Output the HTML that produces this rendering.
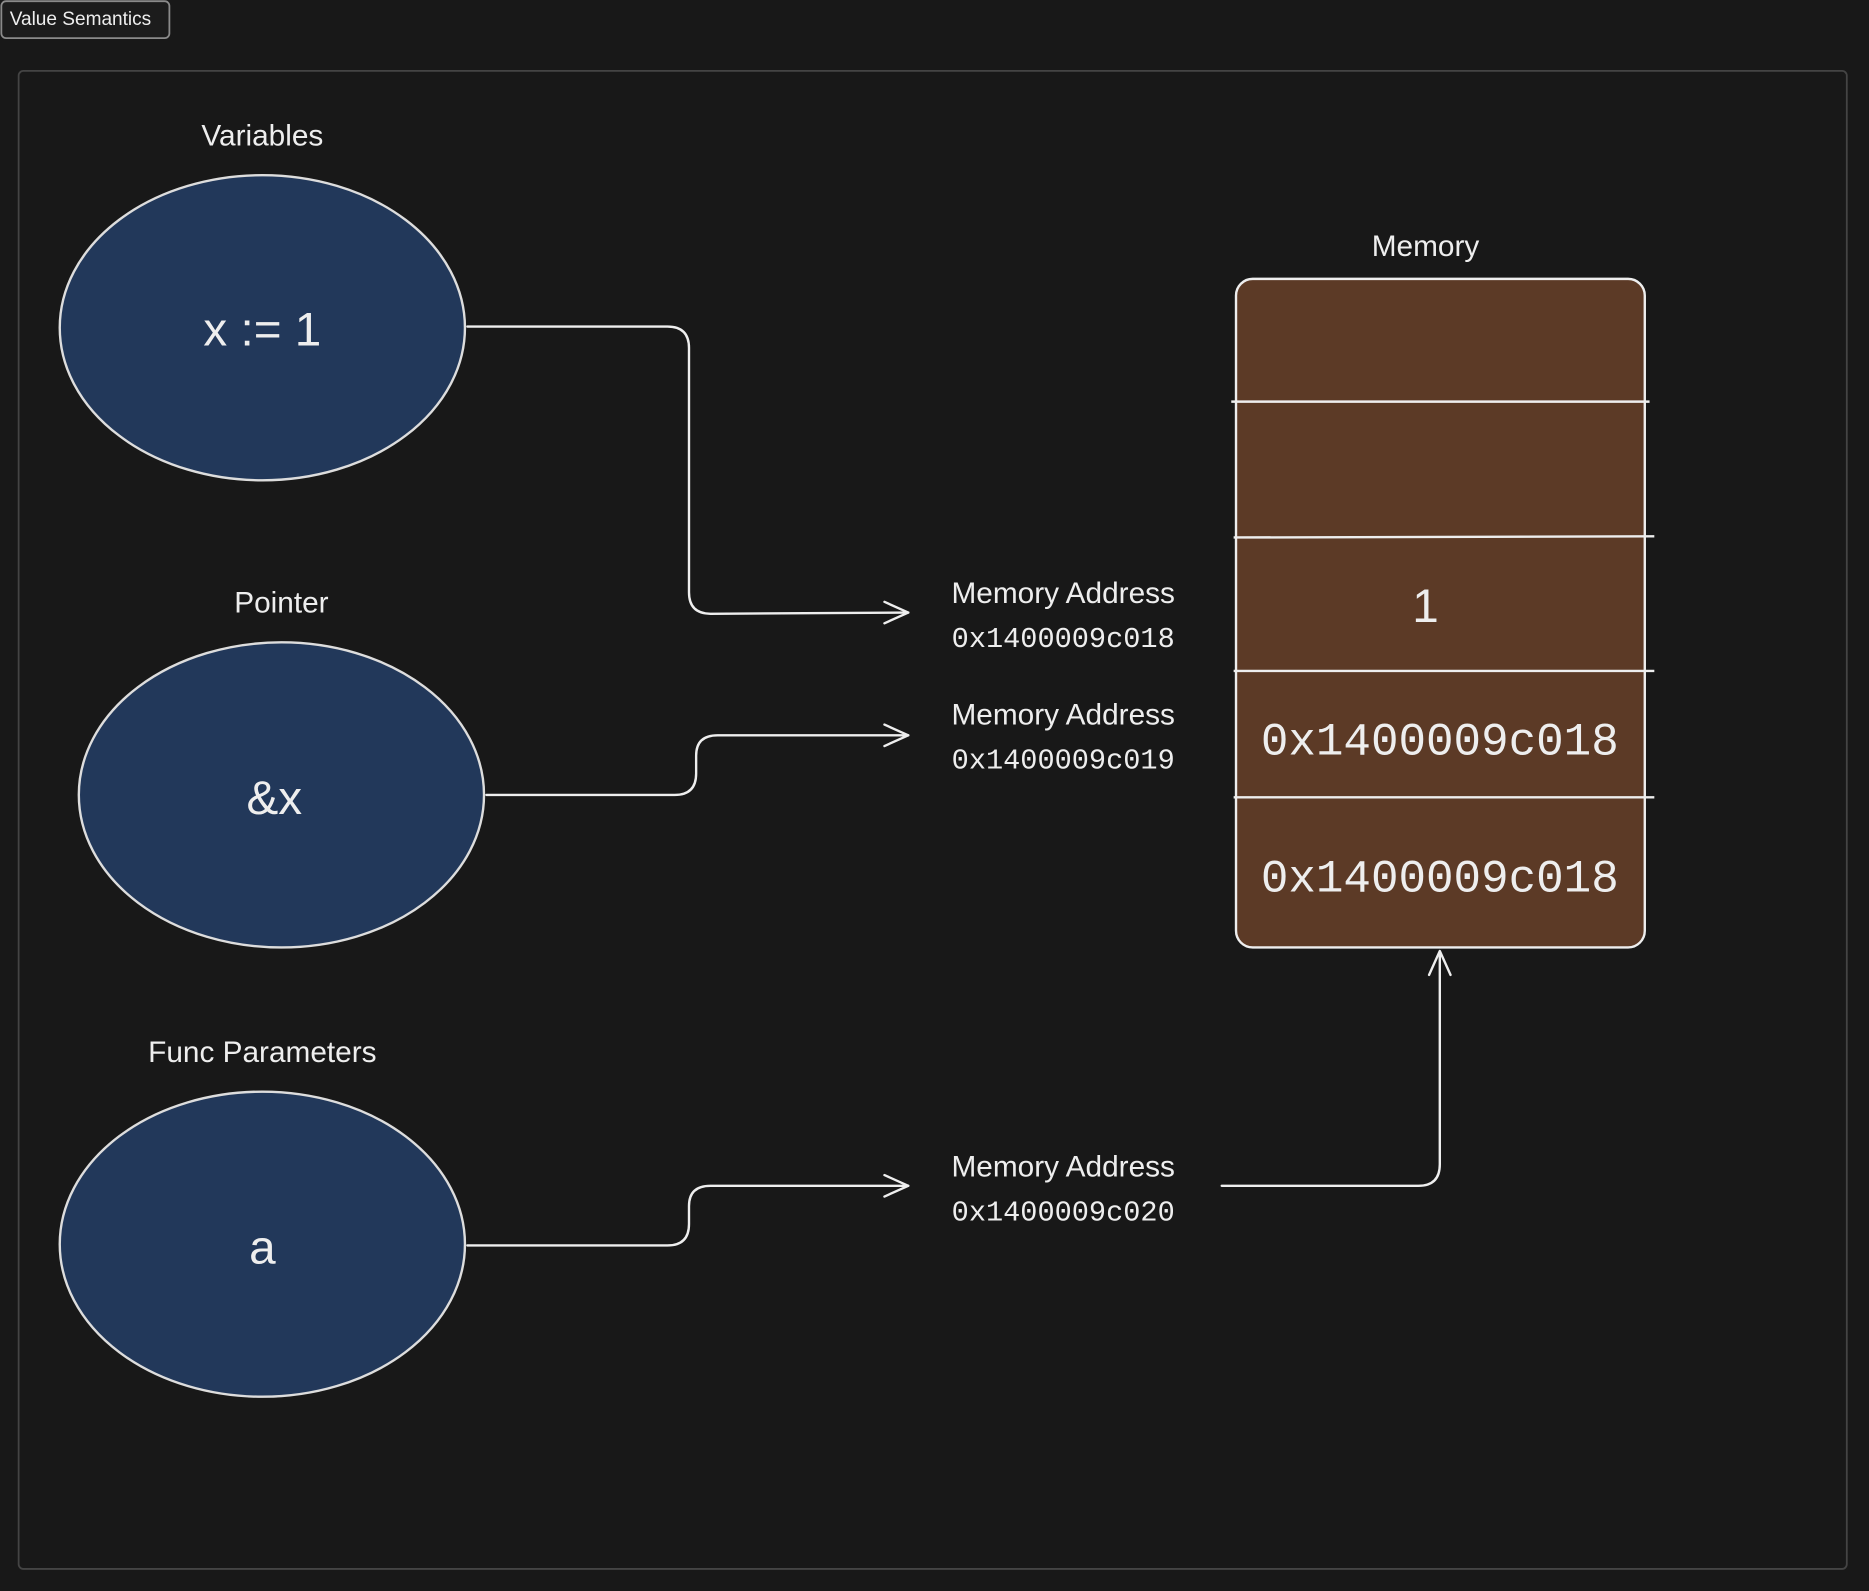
<!DOCTYPE html>
<html><head><meta charset="utf-8"><style>
html,body{margin:0;padding:0;background:#181818;}
svg{display:block}
text{font-family:"Liberation Sans",sans-serif;fill:#eeeeee}
.m{font-family:"Liberation Mono",monospace}
</style></head><body>
<svg width="1869" height="1591" viewBox="0 0 1568 1335" xmlns="http://www.w3.org/2000/svg">
<rect x="0" y="0" width="1568" height="1335" fill="#181818"/>
<rect x="1" y="1" width="141" height="31" rx="4" fill="#1c1c1c" stroke="#8a8a8a" stroke-width="1.5"/>
<text x="8" y="21" font-size="16">Value Semantics</text>
<rect x="15.5" y="59.5" width="1534" height="1257" rx="4" fill="none" stroke="#444" stroke-width="1.5"/>

<text x="220" y="122" font-size="25" text-anchor="middle">Variables</text>
<ellipse cx="220" cy="275" rx="170" ry="128" fill="#22385a" stroke="#ddd" stroke-width="2"/>
<text x="220" y="290" font-size="40" text-anchor="middle">x := 1</text>

<text x="236" y="514" font-size="25" text-anchor="middle">Pointer</text>
<ellipse cx="236" cy="667" rx="170" ry="128" fill="#22385a" stroke="#ddd" stroke-width="2"/>
<text x="230" y="683" font-size="40" text-anchor="middle">&amp;x</text>

<text x="220" y="891" font-size="25" text-anchor="middle">Func Parameters</text>
<ellipse cx="220" cy="1044" rx="170" ry="128" fill="#22385a" stroke="#ddd" stroke-width="2"/>
<text x="220" y="1060" font-size="40" text-anchor="middle">a</text>

<text x="1196" y="215" font-size="25" text-anchor="middle">Memory</text>
<rect x="1037" y="234" width="343" height="561" rx="14" fill="#5c3a26" stroke="#eee" stroke-width="2"/>
<g stroke="#eee" stroke-width="2">
<line x1="1033" y1="337" x2="1384" y2="337"/>
<line x1="1035" y1="451" x2="1388" y2="450"/>
<line x1="1035" y1="563" x2="1388" y2="563"/>
<line x1="1035" y1="669" x2="1388" y2="669"/>
</g>
<text x="1196" y="522" font-size="40" text-anchor="middle">1</text>
<text class="m" x="1208" y="633" font-size="38.5" text-anchor="middle">0x1400009c018</text>
<text class="m" x="1208" y="748" font-size="38.5" text-anchor="middle">0x1400009c018</text>

<text x="892" y="506" font-size="25" text-anchor="middle">Memory Address</text>
<text class="m" x="892" y="543" font-size="24" text-anchor="middle">0x1400009c018</text>
<text x="892" y="608" font-size="25" text-anchor="middle">Memory Address</text>
<text class="m" x="892" y="645" font-size="24" text-anchor="middle">0x1400009c019</text>
<text x="892" y="987" font-size="25" text-anchor="middle">Memory Address</text>
<text class="m" x="892" y="1024" font-size="24" text-anchor="middle">0x1400009c020</text>

<g fill="none" stroke="#eee" stroke-width="2" stroke-linecap="round" stroke-linejoin="round">
<path d="M392 274 L560 274 Q578 274 578 292 L578 497 Q578 515 596 515 L762 514"/>
<path d="M742 505 L762 514 L742 523"/>
<path d="M408 667 L566 667 Q584 667 584 649 L584 634 Q584 617 602 617 L762 617"/>
<path d="M742 608 L762 617 L742 626"/>
<path d="M392 1045 L560 1045 Q578 1045 578 1027 L578 1012 Q578 995 596 995 L762 995"/>
<path d="M742 986 L762 995 L742 1004"/>
<path d="M1025 995 L1190 995 Q1208 995 1208 977 L1208 800"/>
<path d="M1199 818 L1208 798 L1217 818"/>
</g>
</svg>
</body></html>
